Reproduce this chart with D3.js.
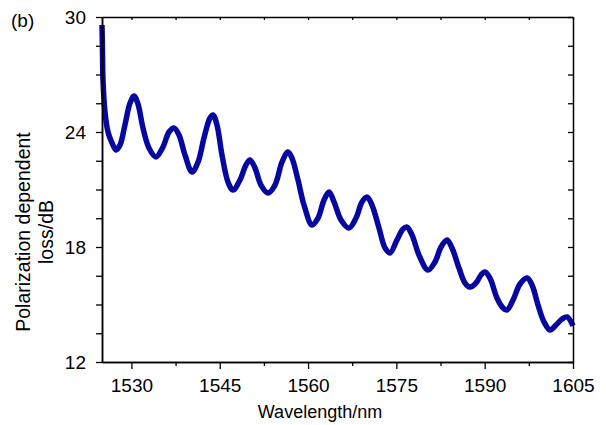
<!DOCTYPE html>
<html>
<head>
<meta charset="utf-8">
<script src="https://cdn.jsdelivr.net/npm/d3@7"></script>
<style>
  body { margin: 0; background: #fff; }
  svg { display: block; }
  text { font-family: Arial, "Liberation Sans", sans-serif; fill: #000; }
</style>
</head>
<body>
<div id="chart"></div>
<script>
// Wavelength (nm) and polarization dependent loss (dB)
const wavelength = [
    1525.0, 1525.08, 1525.17, 1525.51, 1526.02, 1526.7, 1527.38, 1528.06, 1528.9, 1529.76,
    1530.44, 1531.11, 1531.96, 1532.98, 1534.17, 1535.36, 1536.38, 1537.23, 1538.08, 1539.1,
    1540.29, 1541.31, 1542.32, 1543.34, 1543.85, 1544.53, 1545.38, 1546.4, 1547.25, 1548.44,
    1549.46, 1550.14, 1550.99, 1552.0, 1553.2, 1554.38, 1555.57, 1556.59, 1557.27, 1558.29,
    1559.31, 1560.67, 1561.69, 1562.71, 1563.56, 1564.41, 1565.6, 1566.95, 1568.14, 1569.16,
    1570.01, 1570.86, 1572.05, 1573.07, 1573.92, 1575.11, 1576.13, 1576.8, 1577.65, 1578.84,
    1580.37, 1581.56, 1582.58, 1583.6, 1584.45, 1585.64, 1586.66, 1587.5, 1588.52, 1589.37,
    1590.05, 1590.9, 1592.09, 1593.11, 1593.79, 1594.81, 1596.0, 1597.19, 1598.04, 1599.06,
    1600.08, 1601.1, 1602.12, 1603.14, 1603.99, 1605.0
];
const pdl = [
    29.58, 28.28, 26.71, 25.04, 24.0, 23.43, 23.06, 23.32, 24.37, 25.51,
    25.88, 25.46, 24.21, 23.17, 22.7, 23.22, 24.0, 24.21, 23.84, 22.8,
    21.91, 22.43, 23.69, 24.73, 24.89, 24.37, 22.8, 21.39, 20.97, 21.5,
    22.28, 22.54, 22.12, 21.23, 20.82, 21.23, 22.43, 22.96, 22.64, 21.5,
    20.19, 19.15, 19.51, 20.45, 20.87, 20.35, 19.41, 18.99, 19.51, 20.35,
    20.61, 20.19, 18.99, 17.95, 17.69, 18.37, 18.94, 19.04, 18.63, 17.58,
    16.8, 17.22, 18.0, 18.37, 17.95, 16.9, 16.12, 15.91, 16.12, 16.54,
    16.7, 16.38, 15.34, 14.82, 14.71, 15.23, 16.07, 16.38, 16.02, 14.97,
    14.09, 13.67, 13.93, 14.24, 14.35, 13.88
];
const xMajorTicks = [1530, 1545, 1560, 1575, 1590, 1605];
const xMinorTicks = [1537.5, 1552.5, 1567.5, 1582.5, 1597.5];
const yMajorTicks = [12, 18, 24, 30];
const yMinorTicks = [13.5, 15, 16.5, 19.5, 21, 22.5, 25.5, 27, 28.5];

const margin = { top: 17, right: 33, bottom: 63, left: 102 };
const width = 606 - margin.left - margin.right;
const height = 425 - margin.top - margin.bottom;

const svg = d3.select("#chart").append("svg")
    .attr("width", 606)
    .attr("height", 425);

const g = svg.append("g")
    .attr("transform", `translate(${margin.left},${margin.top})`);

const x = d3.scaleLinear().domain([1525, 1605]).range([0, width]);
const y = d3.scaleLinear().domain([12, 30]).range([height, 0]);

// Curve
const points = wavelength.map((w, i) => [w, pdl[i]]);
const line = d3.line()
    .x(d => x(d[0]))
    .y(d => y(d[1]))
    .curve(d3.curveCatmullRom.alpha(0.5));

g.append("path")
    .datum(points)
    .attr("fill", "none")
    .attr("stroke", "#0606a0")
    .attr("stroke-width", 5.5)
    .attr("stroke-linejoin", "round")
    .attr("d", line);

// Axes
function styleAxis(sel) {
    sel.select(".domain").attr("stroke", "#000").attr("stroke-width", 1.5);
    sel.selectAll(".tick line").attr("stroke", "#000").attr("stroke-width", 1.3);
    sel.selectAll("text").style("font-size", "19px");
}

g.append("g")
    .attr("transform", `translate(0,${height})`)
    .call(d3.axisBottom(x).tickValues(xMajorTicks).tickSize(7).tickPadding(9.5).tickSizeOuter(0).tickFormat(d3.format("d")))
    .call(styleAxis);
g.append("g")
    .attr("transform", `translate(0,${height})`)
    .call(d3.axisBottom(x).tickValues(xMinorTicks).tickSize(4).tickSizeOuter(0).tickFormat(""))
    .call(styleAxis);

g.append("g")
    .call(d3.axisLeft(y).tickValues(yMajorTicks).tickSize(6).tickPadding(10).tickSizeOuter(0))
    .call(styleAxis);
g.append("g")
    .call(d3.axisLeft(y).tickValues(yMinorTicks).tickSize(6).tickSizeOuter(0).tickFormat(""))
    .call(styleAxis);

g.append("g")
    .call(d3.axisTop(x).tickValues(xMajorTicks.concat(xMinorTicks)).tickSize(-3).tickSizeOuter(0).tickFormat(""))
    .call(styleAxis);

g.append("g")
    .attr("transform", `translate(${width},0)`)
    .call(d3.axisRight(y).tickValues(yMajorTicks.concat(yMinorTicks)).tickSize(-5).tickSizeOuter(0).tickFormat(""))
    .call(styleAxis);

// Titles
svg.append("text")
    .attr("x", 320)
    .attr("y", 418)
    .attr("text-anchor", "middle")
    .style("font-size", "18px")
    .text("Wavelength/nm");

svg.append("text")
    .attr("transform", "translate(30,232) rotate(-90)")
    .attr("text-anchor", "middle")
    .style("font-size", "19.5px")
    .text("Polarization dependent");

svg.append("text")
    .attr("transform", "translate(53,232) rotate(-90)")
    .attr("text-anchor", "middle")
    .style("font-size", "19.5px")
    .text("loss/dB");

svg.append("text")
    .attr("x", 11)
    .attr("y", 27)
    .style("font-size", "19px")
    .text("(b)");
</script>
</body>
</html>
